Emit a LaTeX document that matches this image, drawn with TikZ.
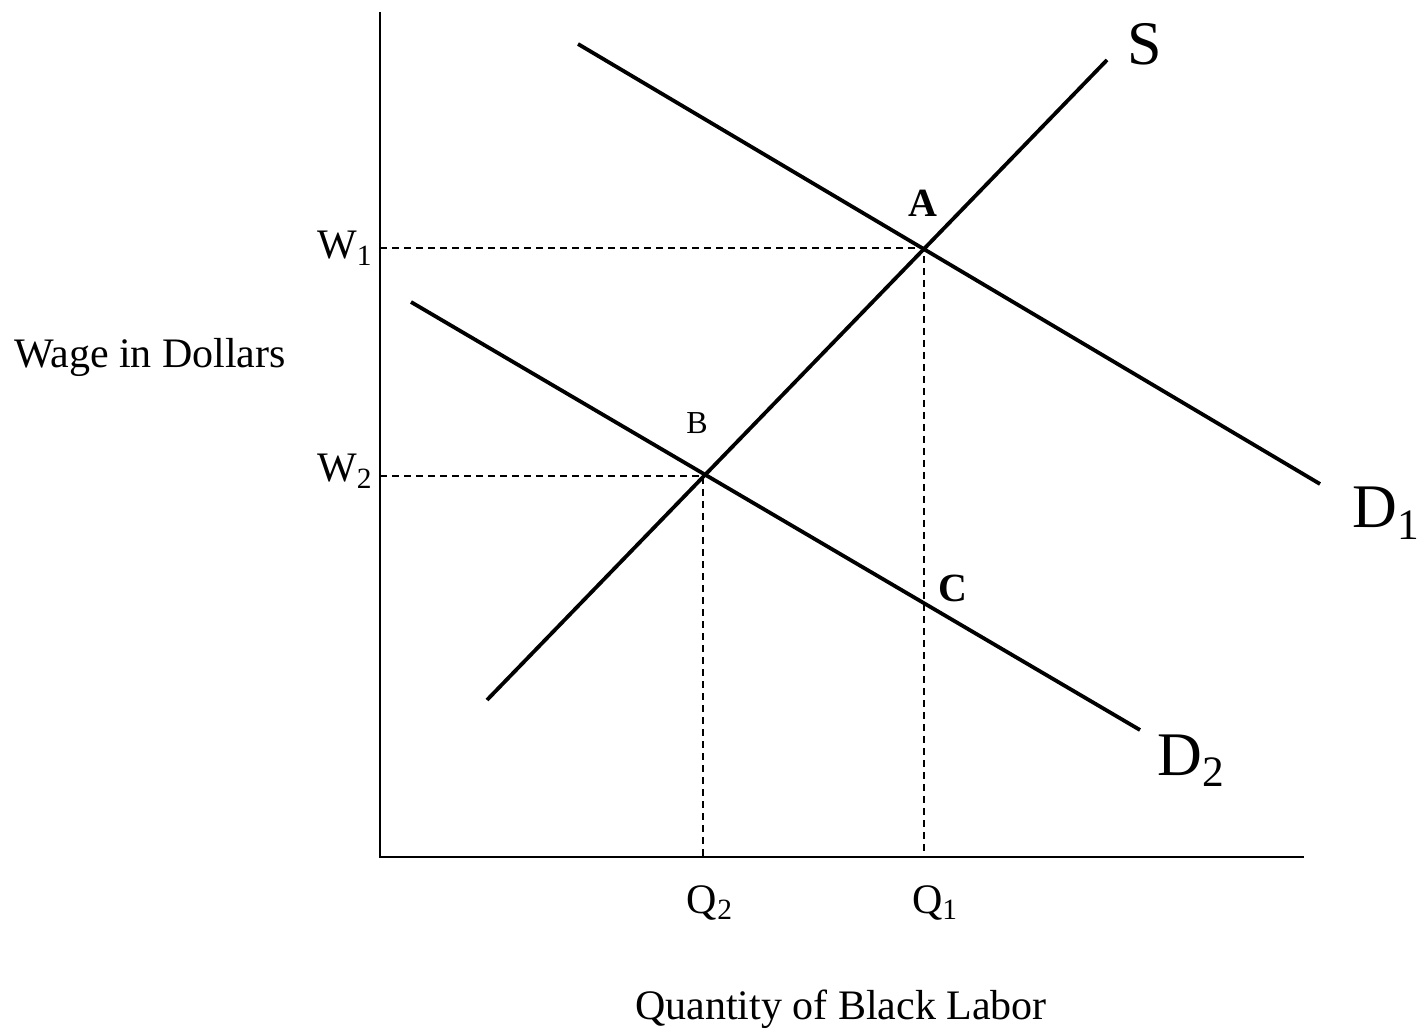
\documentclass[tikz,border=0pt]{standalone}
\usepackage{fontspec}
\setmainfont{Liberation Serif}
\usetikzlibrary{calc}

\begin{document}
\begin{tikzpicture}[x=0.5pt, y=-0.5pt,
    curve/.style={line width=1.9pt, black},
    guide/.style={line width=0.75pt, dash pattern=on 3.5pt off 2.5pt},
    axis/.style={line width=1.1pt},
    tick/.style={font=\fontsize{21}{25}\selectfont, inner sep=0pt},
    curvelabel/.style={font=\fontsize{31}{37}\selectfont, inner sep=0pt},
    pointlabel/.style={font=\fontsize{20}{24}\selectfont\bfseries, inner sep=0pt}]
  \useasboundingbox (0,0) rectangle (1427,1036);

  % Axes
  \coordinate (O) at (380,857);
  \coordinate (Ytop) at (380,12);
  \coordinate (Xend) at (1304,857);
  \draw[axis] (Ytop) -- (O) -- (Xend);

  % Supply and demand curves
  \coordinate (S0) at (487,700);
  \coordinate (S1) at (1107,60);
  \coordinate (D10) at (578,44);
  \coordinate (D11) at (1320,484);
  \coordinate (D20) at (411,302);
  \coordinate (D21) at (1140,730);
  \draw[curve] (S0) -- (S1);
  \draw[curve] (D10) -- (D11);
  \draw[curve] (D20) -- (D21);

  % Equilibrium points
  \coordinate (A) at (924,248);
  \coordinate (B) at (703,476);
  \coordinate (C) at (924,604);
  \coordinate (W1) at (O |- A);
  \coordinate (W2) at (O |- B);
  \coordinate (Q1) at (A |- O);
  \coordinate (Q2) at (B |- O);

  % Dashed guides
  \draw[guide] (W1) -- (A) -- (Q1);
  \draw[guide] (W2) -- (B) -- (Q2);

  % Labels
  \node[curvelabel, anchor=base] (Slab) at (1145,65) {S};
  \node[curvelabel, anchor=base west] (D1lab) at (1352,528) {D\textsubscript{1}};
  \node[curvelabel, anchor=base west] (D2lab) at (1157,775) {D\textsubscript{2}};
  \node[pointlabel, anchor=base] (Alab) at (923,217) {A};
  \node[font=\fontsize{16}{19}\selectfont, inner sep=0pt, anchor=base] (Blab) at (697,434) {B};
  \node[pointlabel, anchor=base] (Clab) at (953,601) {C};

  \node[tick, anchor=base east] (W1lab) at (373,259) {W\textsubscript{1}};
  \node[tick, anchor=base east] (W2lab) at (373,482) {W\textsubscript{2}};
  \node[tick, anchor=base] (Q2lab) at (710,913) {Q\textsubscript{2}};
  \node[tick, anchor=base] (Q1lab) at (935,913) {Q\textsubscript{1}};

  \node[tick, anchor=base] (ylab) at (150,368) {Wage in Dollars};
  \node[tick, anchor=base] (xlab) at (841,1019) {Quantity of Black Labor};
\end{tikzpicture}
\end{document}
